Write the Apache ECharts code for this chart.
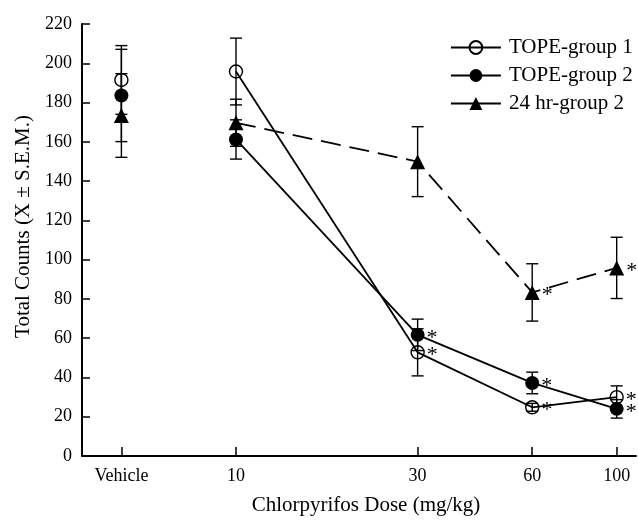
<!DOCTYPE html>
<html><head><meta charset="utf-8">
<script src="https://cdn.jsdelivr.net/npm/echarts@6/dist/echarts.min.js"></script>
<style>html,body{margin:0;padding:0;background:#fff}#c{width:638px;height:521px}</style>
</head><body><div id="c"></div>
<script>
// Dose positions (Vehicle plotted at 5 on the log dose axis)
const doses = [5, 10, 30, 60, 100];
const doseLabels = ['Vehicle', '10', '30', '60', '100'];
const yTicks = [0, 20, 40, 60, 80, 100, 120, 140, 160, 180, 200, 220];

const tope1 = [191.5, 195.8, 52.8, 24.8, 30.0];
const tope1Err = [17.5, 17.0, 12.0, 2.0, 5.7];
const tope1Sig = [false, false, true, true, true];

const tope2 = [183.6, 161.2, 61.7, 37.2, 24.0];
const tope2Err = [23.5, 10.0, 8.0, 5.5, 4.7];
const tope2Sig = [false, false, true, true, true];

const hr24 = [173.4, 169.7, 149.9, 83.3, 95.8];
const hr24Err = [21.3, 12.0, 17.8, 14.6, 15.6];
const hr24Sig = [false, false, false, true, true];

const names = ['TOPE-group 1', 'TOPE-group 2', '24 hr-group 2'];
const FONT = '"Liberation Serif", "Times New Roman", serif';

const groups = [
  {name: names[0], vals: tope1, err: tope1Err, sig: tope1Sig, symbol: 'circle', size: 13,
   itemStyle: {color: 'rgba(255,255,255,0)', borderColor: '#000', borderWidth: 1.4, opacity: 1}, dash: 'solid'},
  {name: names[1], vals: tope2, err: tope2Err, sig: tope2Sig, symbol: 'circle', size: 14,
   itemStyle: {color: '#000', borderColor: '#000', borderWidth: 0, opacity: 1}, dash: 'solid'},
  {name: names[2], vals: hr24, err: hr24Err, sig: hr24Sig, symbol: 'triangle', size: 15,
   itemStyle: {color: '#000', borderColor: '#000', borderWidth: 0, opacity: 1}, dash: [20, 9]}
];

const series = [];
groups.forEach(g => {
  const lineData = [];
  for (let i = 1; i < doses.length; i++) {
    lineData.push({
      value: [doses[i], g.vals[i]],
      label: {show: g.sig[i]}
    });
  }
  series.push({
    name: g.name, type: 'line', data: lineData,
    symbol: g.symbol, symbolSize: g.size, showAllSymbol: true,
    itemStyle: g.itemStyle,
    lineStyle: {color: '#000', width: 1.8, type: g.dash},
    label: {show: false, position: 'right', formatter: '*', distance: 2,
      fontFamily: FONT, fontSize: 22, color: '#000', offset: [0, 3]},
    emphasis: {disabled: true}, animation: false, z: 2
  });
  series.push({
    name: g.name, type: 'scatter', data: [[doses[0], g.vals[0]]],
    symbol: g.symbol, symbolSize: g.size, itemStyle: g.itemStyle,
    emphasis: {disabled: true}, animation: false, z: 2
  });
  series.push({
    name: g.name + ' err', type: 'custom', z: 4, animation: false, silent: true,
    data: doses.map((d, i) => [d, g.vals[i], g.vals[i] + g.err[i], g.vals[i] - g.err[i]]),
    renderItem: function (params, api) {
      const top = api.coord([api.value(0), api.value(2)]);
      const bot = api.coord([api.value(0), api.value(3)]);
      const hw = 6;
      const st = {stroke: '#000', lineWidth: 1.4};
      return {type: 'group', children: [
        {type: 'line', shape: {x1: top[0], y1: top[1], x2: bot[0], y2: bot[1]}, style: st},
        {type: 'line', shape: {x1: top[0] - hw, y1: top[1], x2: top[0] + hw, y2: top[1]}, style: st},
        {type: 'line', shape: {x1: bot[0] - hw, y1: bot[1], x2: bot[0] + hw, y2: bot[1]}, style: st}
      ]};
    }
  });
});

const chart = echarts.init(document.getElementById('c'));
chart.setOption({
  backgroundColor: '#fff',
  animation: false,
  grid: {left: 82, right: 2, top: 24, bottom: 59},
  legend: {
    orient: 'vertical', left: 445, top: 32, itemWidth: 50, itemHeight: 16, itemGap: 7,
    data: names.map(n => ({name: n, lineStyle: {type: 'solid', width: 1.8}})),
    textStyle: {fontFamily: FONT, fontSize: 21, color: '#000', padding: [0, 0, 0, 3]},
    selectedMode: false
  },
  xAxis: {
    type: 'log', logBase: 10, min: 3.94, max: 112.4,
    name: 'Chlorpyrifos Dose (mg/kg)', nameLocation: 'middle', nameGap: 39,
    nameTextStyle: {fontFamily: FONT, fontSize: 21, color: '#000', padding: [0, 0, 0, 14]},
    axisLine: {lineStyle: {color: '#000', width: 2}},
    axisTick: {show: true, inside: true, length: 9, lineStyle: {color: '#000', width: 1.5}, customValues: doses},
    axisLabel: {customValues: doses, fontFamily: FONT, fontSize: 18, color: '#000', margin: 11,
      formatter: v => { const i = doses.indexOf(Number(v)); return i >= 0 ? doseLabels[i] : ''; }},
    splitLine: {show: false}, minorTick: {show: false}
  },
  yAxis: {
    type: 'value', min: 0, max: 220, interval: 20,
    name: 'Total Counts (X ± S.E.M.)', nameLocation: 'middle', nameGap: 47,
    nameTextStyle: {fontFamily: FONT, fontSize: 21, color: '#000', padding: [0, 0, 0, 27]},
    axisLine: {show: true, lineStyle: {color: '#000', width: 2}},
    axisTick: {show: true, inside: true, length: 8, lineStyle: {color: '#000', width: 1.5}},
    axisLabel: {fontFamily: FONT, fontSize: 18, color: '#000', margin: 10,
      formatter: v => yTicks.indexOf(v) >= 0 ? String(v) : ''},
    splitLine: {show: false}
  },
  series: series
});
</script></body></html>
